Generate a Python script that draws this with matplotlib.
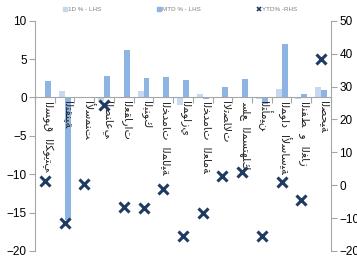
import numpy as np
import matplotlib
matplotlib.use("Agg")
import matplotlib.pyplot as plt
from matplotlib.patches import Patch
from matplotlib.lines import Line2D

CATEGORIES = ["السوق الكويتي", "التقنية", "الأسمنت", "الصناعي", "العقارات",
              "البنوك", "الخدمات المالية", "الموازي", "الخدمات العامة",
              "الاتصالات", "سلع المستهلك", "التأمين", "المواد الأساسية",
              "النفط و الغاز", "الصحية"]
D1 = [0, 0.8, 0, -0.4, 0, 0.8, 0, -1.0, 0.5, 0, 0, -0.2, 1.1, -0.2, 1.3]
MTD = [2.2, -16.0, 0, 2.8, 6.2, 2.6, 2.7, 2.3, -0.2, 1.4, 2.4, -0.9, 7.0, 0.45, 1.0]
YTD = [1.3, -11.6, 0.4, 24.4, -6.5, -7.0, -1.2, -15.4, -8.5, 2.9, 4.1, -15.4, 1.1, -4.5, 38.3]
LEGEND = ["1D % - LHS", "MTD % - LHS", "YTD% -RHS"]

C_1D = "#C6D9F1"
C_MTD = "#8EB4E3"
C_YTD = "#1F3A63"
GREY = "#A6A6A6"

# presentation forms: base letter -> (isolated code, number of forms)
FORMS = {"ء": (0xFE80, 1), "آ": (0xFE81, 2), "أ": (0xFE83, 2), "إ": (0xFE87, 2),
         "ا": (0xFE8D, 2), "ب": (0xFE8F, 4), "ة": (0xFE93, 2), "ت": (0xFE95, 4),
         "ث": (0xFE99, 4), "ج": (0xFE9D, 4), "ح": (0xFEA1, 4), "خ": (0xFEA5, 4),
         "د": (0xFEA9, 2), "ذ": (0xFEAB, 2), "ر": (0xFEAD, 2), "ز": (0xFEAF, 2),
         "س": (0xFEB1, 4), "ش": (0xFEB5, 4), "ص": (0xFEB9, 4), "ض": (0xFEBD, 4),
         "ط": (0xFEC1, 4), "ظ": (0xFEC5, 4), "ع": (0xFEC9, 4), "غ": (0xFECD, 4),
         "ف": (0xFED1, 4), "ق": (0xFED5, 4), "ك": (0xFED9, 4), "ل": (0xFEDD, 4),
         "م": (0xFEE1, 4), "ن": (0xFEE5, 4), "ه": (0xFEE9, 4), "و": (0xFEED, 2),
         "ى": (0xFEEF, 2), "ي": (0xFEF1, 4)}
LAM_ALEF = {"ا": 0xFEFB, "أ": 0xFEF7, "إ": 0xFEF9, "آ": 0xFEF5}


def shape(text):
    out = []
    i = 0
    prev_joins = False
    while i < len(text):
        ch = text[i]
        if ch not in FORMS:
            out.append(ch)
            prev_joins = False
            i += 1
            continue
        nxt = text[i + 1] if i + 1 < len(text) else ""
        if ch == "ل" and nxt in LAM_ALEF:
            out.append(chr(LAM_ALEF[nxt] + (1 if prev_joins else 0)))
            prev_joins = False
            i += 2
            continue
        base, n = FORMS[ch]
        joins_next = n == 4 and nxt in FORMS
        if n == 1:
            code = base
        elif prev_joins and joins_next:
            code = base + 3
        elif joins_next:
            code = base + 2
        elif prev_joins:
            code = base + 1
        else:
            code = base
        out.append(chr(code))
        prev_joins = n == 4
        i += 1
    return "".join(out)


plt.rcParams["font.family"] = ["Liberation Sans", "DejaVu Sans"]

fig, ax = plt.subplots(figsize=(3.57, 2.69), dpi=100)
fig.subplots_adjust(left=0.098, right=0.927, bottom=0.067, top=0.923)
ax2 = ax.twinx()

x = np.arange(len(CATEGORIES))
w = 0.3
ax.bar(x - w / 2, D1, w, color=C_1D, zorder=2)
ax.bar(x + w / 2, MTD, w, color=C_MTD, zorder=2)
ax2.plot(x, YTD, ls="none", marker="x", ms=6.5, mew=2.2, color=C_YTD, zorder=5)

ax.set_xlim(-0.5, len(CATEGORIES) - 0.5)
ax.set_ylim(-20, 10)
ax.set_yticks(np.arange(-20, 11, 5))
ax2.set_ylim(-20, 50)
ax2.set_yticks(np.arange(-20, 51, 10))

for a in (ax, ax2):
    a.spines["top"].set_visible(False)
    a.tick_params(axis="y", labelsize=8.5, color=GREY, length=4, width=0.8,
                  pad=2, labelcolor="black")
ax.spines["right"].set_visible(False)
ax2.spines["left"].set_visible(False)
ax2.spines["bottom"].set_visible(False)
ax.spines["left"].set_color(GREY)
ax2.spines["right"].set_color(GREY)

# zero line with category separators
ax.spines["bottom"].set_position(("data", 0))
ax.spines["bottom"].set_color(GREY)
ax.spines["bottom"].set_linewidth(0.8)
ax.set_xticks(np.arange(-0.5, len(CATEGORIES), 1.0))
ax.tick_params(axis="x", labelbottom=False, color=GREY, length=4, width=0.8)

for xi, name in zip(x, CATEGORIES):
    ax.text(xi + 0.15, -0.5, shape(name).replace(" ", "  "), rotation=-90,
            ha="center", va="top", fontsize=7.8, family=["DejaVu Sans"],
            color="#262626", zorder=3)

handles = [Patch(color=C_1D), Patch(color=C_MTD),
           Line2D([], [], ls="none", marker="x", ms=3.5, mew=1.2, color=C_YTD)]
fig.legend(handles, LEGEND, loc="center", bbox_to_anchor=(0.505, 0.965), ncol=3,
           frameon=False, fontsize=4.5, handlelength=0.6, handleheight=0.6,
           handletextpad=0.2, columnspacing=9, labelcolor="#7F7F7F")

plt.savefig("out.png", dpi=100)
